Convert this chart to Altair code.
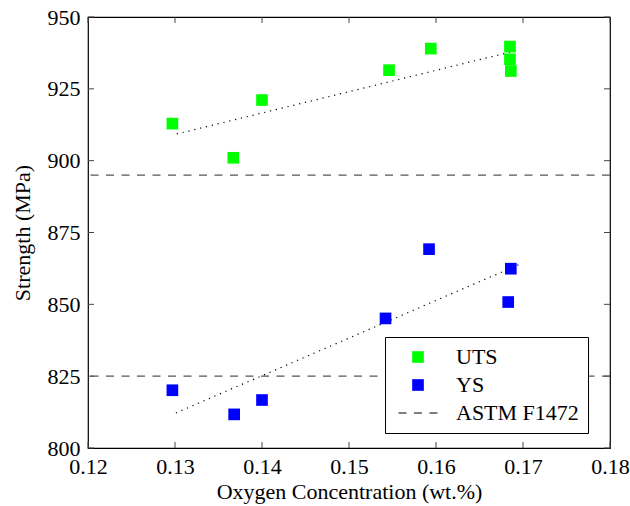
import altair as alt
import pandas as pd

# Measured strengths vs. oxygen content
uts_x = [0.1297, 0.1367, 0.1400, 0.1546, 0.1594, 0.1685, 0.1685, 0.1686]
uts_y = [912.9, 901.0, 921.1, 931.5, 939.0, 939.7, 935.3, 931.2]
ys_x = [0.1297, 0.1368, 0.1400, 0.1542, 0.1592, 0.1686, 0.1683]
ys_y = [820.1, 811.7, 816.7, 845.1, 869.2, 862.4, 850.8]

# Linear trend end points
uts_fit_x = [0.1302, 0.1695]
uts_fit_y = [909.3, 938.5]
ys_fit_x = [0.1301, 0.1699]
ys_fit_y = [812.2, 864.3]

# ASTM F1472 minimum values (UTS, YS)
astm_limits = [895, 825]

series = ["UTS", "YS", "ASTM F1472"]
colors = ["#00ff00", "#0000ff", "#555555"]

x_ticks = [0.12, 0.13, 0.14, 0.15, 0.16, 0.17, 0.18]
y_ticks = [800, 825, 850, 875, 900, 925, 950]

FONT = "Liberation Serif, DejaVu Serif, serif"
FS = 22
W, H = 522, 431
TICK = 6
DASH = [8, 7.5]

pts = pd.DataFrame({
    "x": uts_x + ys_x,
    "y": uts_y + ys_y,
    "series": ["UTS"] * len(uts_x) + ["YS"] * len(ys_x),
})
fits = pd.DataFrame({
    "x": uts_fit_x + ys_fit_x,
    "y": uts_fit_y + ys_fit_y,
    "series": ["UTS"] * 2 + ["YS"] * 2,
})
limits = pd.DataFrame({"y": astm_limits})
xt = pd.DataFrame({"t": x_ticks})
yt = pd.DataFrame({"t": y_ticks})

xscale = alt.Scale(domain=[0.12, 0.18], nice=False, zero=False)
yscale = alt.Scale(domain=[800, 950], nice=False, zero=False)

x_axis = alt.Axis(values=x_ticks, format=".2f", ticks=False, domain=False, grid=False,
                  labelFlush=False, labelOverlap=False, labelPadding=8,
                  title="Oxygen Concentration (wt.%)", titlePadding=4)
y_axis = alt.Axis(values=y_ticks, format="d", ticks=False, domain=False, grid=False,
                  labelFlush=False, labelOverlap=False, labelPadding=8,
                  title="Strength (MPa)", titlePadding=13)

is_astm = "datum.value === 'ASTM F1472'"
legend = alt.Legend(
    title=None, orient="none", legendX=297, legendY=320,
    strokeColor="black", fillColor="white", padding=9, cornerRadius=0,
    labelFont=FONT, labelFontSize=FS, labelColor="black",
    symbolSize=alt.ExprRef(expr=f"{is_astm} ? 1521 : 136"),
    symbolType=alt.ExprRef(expr=f"{is_astm} ? 'stroke' : 'square'"),
    symbolStrokeColor=alt.ExprRef(expr=f"{is_astm} ? '{colors[2]}' : 'transparent'"),
    symbolDash=alt.ExprRef(expr=f"{is_astm} ? [{DASH[0]}, {DASH[1]}] : [1, 0]"),
    symbolStrokeWidth=1.3, symbolOpacity=1,
    symbolOffset=13, labelOffset=27, rowPadding=6,
)

points = alt.Chart(pts).mark_square(size=136, opacity=1).encode(
    x=alt.X("x:Q", scale=xscale, axis=x_axis),
    y=alt.Y("y:Q", scale=yscale, axis=y_axis),
    color=alt.Color("series:N", scale=alt.Scale(domain=series, range=colors), legend=legend),
)

fit_lines = alt.Chart(fits).mark_line(color="black", strokeWidth=1.2, strokeDash=[1.2, 4.8]).encode(
    x=alt.X("x:Q", scale=xscale),
    y=alt.Y("y:Q", scale=yscale),
    detail="series:N",
)

limit_rules = alt.Chart(limits).mark_rule(color=colors[2], strokeWidth=1.3, strokeDash=DASH).encode(
    y=alt.Y("y:Q", scale=yscale),
)

ticks_bottom = alt.Chart(xt).mark_rule(color="#444444", strokeWidth=1).encode(
    x=alt.X("t:Q", scale=xscale), y=alt.value(H), y2=alt.value(H - TICK))
ticks_top = alt.Chart(xt).mark_rule(color="#444444", strokeWidth=1).encode(
    x=alt.X("t:Q", scale=xscale), y=alt.value(0), y2=alt.value(TICK))
ticks_left = alt.Chart(yt).mark_rule(color="#444444", strokeWidth=1).encode(
    y=alt.Y("t:Q", scale=yscale), x=alt.value(0), x2=alt.value(TICK))
ticks_right = alt.Chart(yt).mark_rule(color="#444444", strokeWidth=1).encode(
    y=alt.Y("t:Q", scale=yscale), x=alt.value(W), x2=alt.value(W - TICK))

chart = alt.layer(
    ticks_bottom, ticks_top, ticks_left, ticks_right,
    limit_rules, fit_lines, points,
).properties(
    width=W, height=H,
    background="white",
    autosize=alt.AutoSizeParams(type="none"),
    padding={"left": 88, "top": 17, "right": 20, "bottom": 58},
).configure_view(
    stroke="black", strokeWidth=1.2,
).configure_axis(
    labelFont=FONT, titleFont=FONT, labelFontSize=FS, titleFontSize=FS,
    labelColor="black", titleColor="black", titleFontWeight="normal",
)

chart.save("out.html", embed_options={"renderer": "svg", "actions": False})
